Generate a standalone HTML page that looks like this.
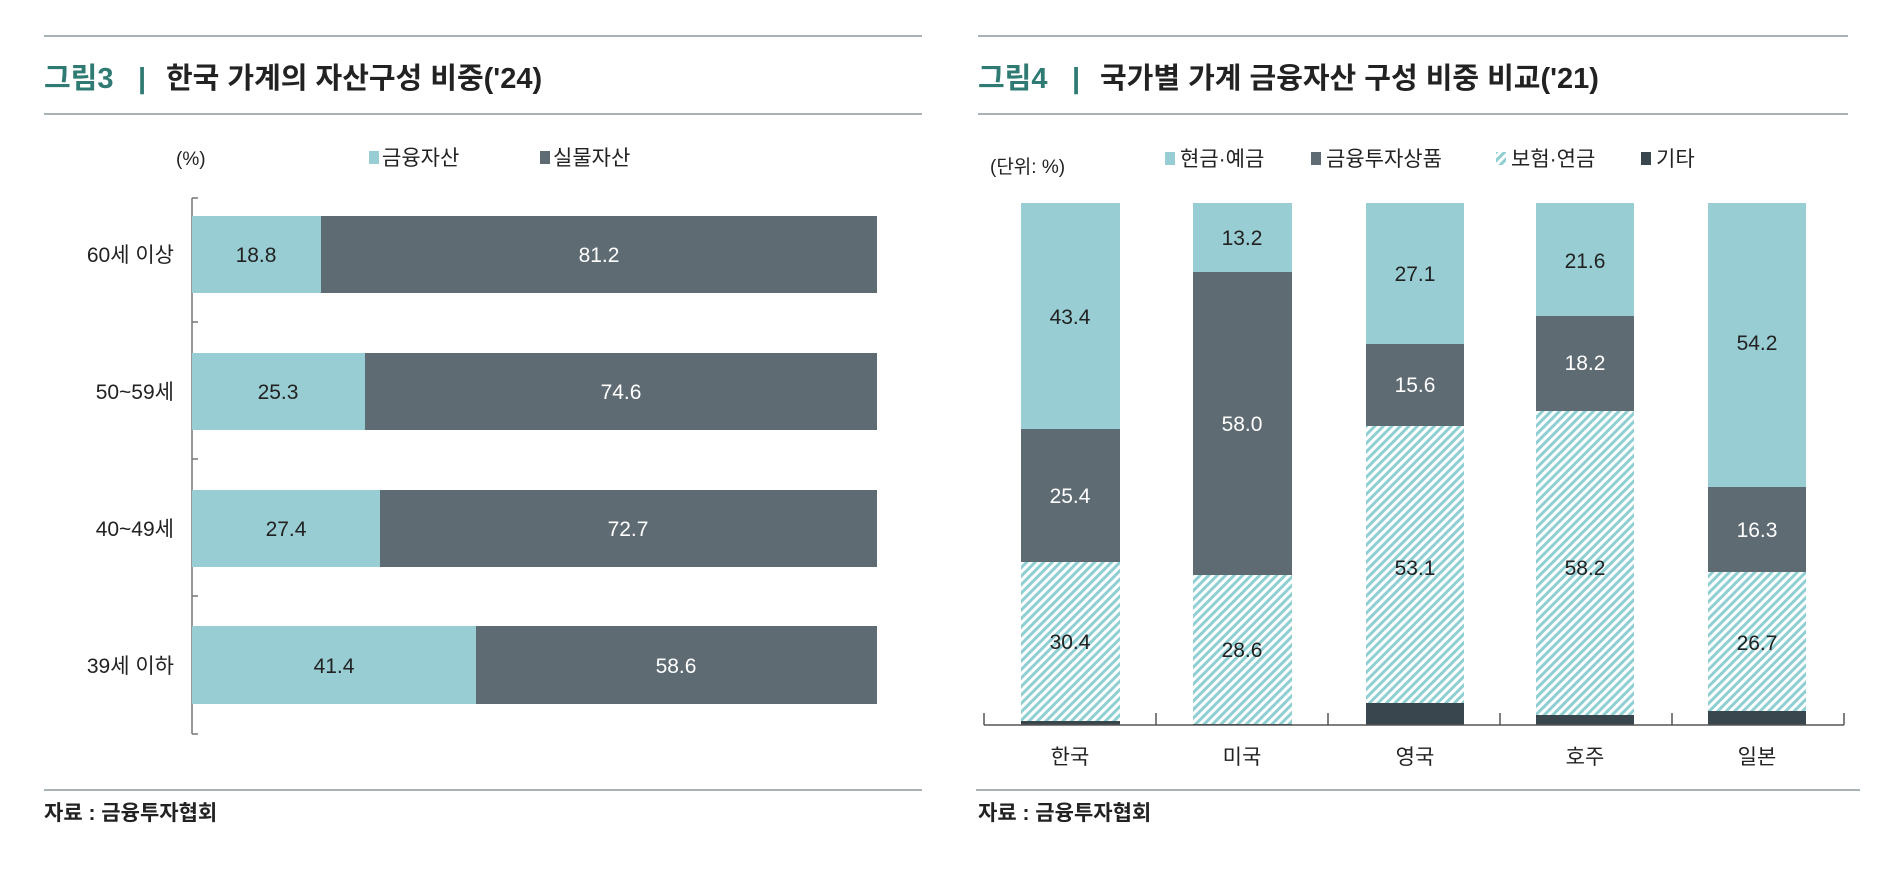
<!DOCTYPE html>
<html><head><meta charset="utf-8"><style>
body{margin:0;background:#fff}
svg text{font-family:"Liberation Sans","Noto Sans CJK KR",sans-serif}
</style></head><body>
<svg width="1880" height="864" viewBox="0 0 1880 864" xmlns="http://www.w3.org/2000/svg">
<defs>
<pattern id="h" width="6" height="6" patternUnits="userSpaceOnUse" patternTransform="rotate(45)">
<rect width="6" height="6" fill="#fff"/><rect width="3" height="6" fill="#8fcfd3"/>
</pattern>
</defs>
<!-- left panel -->
<line x1="44" y1="36" x2="922" y2="36" stroke="#a9b2b7" stroke-width="2"/>
<line x1="44" y1="114" x2="922" y2="114" stroke="#a9b2b7" stroke-width="2"/>
<text x="44" y="88" font-size="29" font-weight="bold" fill="#2f7b73">그림3</text>
<text x="138" y="88" font-size="29" font-weight="bold" fill="#2f7b73">|</text>
<text x="166" y="88" font-size="29" font-weight="bold" fill="#222">한국 가계의 자산구성 비중('24)</text>
<text x="176" y="165" font-size="19" fill="#222">(%)</text>
<rect x="369" y="151" width="10" height="13" fill="#97cdd3"/>
<text x="382" y="165" font-size="21" fill="#222">금융자산</text>
<rect x="540" y="151" width="10" height="13" fill="#5f6b73"/>
<text x="553" y="165" font-size="21" fill="#222">실물자산</text>
<line x1="192" y1="198" x2="192" y2="734" stroke="#777" stroke-width="1.5"/>
<g stroke="#777" stroke-width="1.5">
<line x1="192" y1="198" x2="198" y2="198"/><line x1="192" y1="322" x2="198" y2="322"/><line x1="192" y1="459" x2="198" y2="459"/><line x1="192" y1="596" x2="198" y2="596"/><line x1="192" y1="734" x2="198" y2="734"/>
</g>
<g font-size="21" text-anchor="middle">
<rect x="192" y="216" width="129" height="77" fill="#97cdd3"/><rect x="321" y="216" width="556" height="77" fill="#5f6b73"/>
<text x="256" y="262" fill="#222">18.8</text><text x="599" y="262" fill="#fff">81.2</text>
<rect x="192" y="353" width="173" height="77" fill="#97cdd3"/><rect x="365" y="353" width="512" height="77" fill="#5f6b73"/>
<text x="278" y="399" fill="#222">25.3</text><text x="621" y="399" fill="#fff">74.6</text>
<rect x="192" y="490" width="188" height="77" fill="#97cdd3"/><rect x="380" y="490" width="497" height="77" fill="#5f6b73"/>
<text x="286" y="536" fill="#222">27.4</text><text x="628" y="536" fill="#fff">72.7</text>
<rect x="192" y="626" width="284" height="78" fill="#97cdd3"/><rect x="476" y="626" width="401" height="78" fill="#5f6b73"/>
<text x="334" y="673" fill="#222">41.4</text><text x="676" y="673" fill="#fff">58.6</text>
</g>
<g font-size="21" text-anchor="end" fill="#222">
<text x="174" y="262">60세 이상</text><text x="174" y="399">50~59세</text><text x="174" y="536">40~49세</text><text x="174" y="673">39세 이하</text>
</g>
<line x1="44" y1="790" x2="922" y2="790" stroke="#a9b2b7" stroke-width="2"/>
<text x="44" y="820" font-size="21" font-weight="bold" fill="#222">자료 : 금융투자협회</text>

<!-- right panel -->
<line x1="978" y1="36" x2="1848" y2="36" stroke="#a9b2b7" stroke-width="2"/>
<line x1="978" y1="114" x2="1848" y2="114" stroke="#a9b2b7" stroke-width="2"/>
<text x="978" y="88" font-size="29" font-weight="bold" fill="#2f7b73">그림4</text>
<text x="1072" y="88" font-size="29" font-weight="bold" fill="#2f7b73">|</text>
<text x="1100" y="88" font-size="29" font-weight="bold" fill="#222">국가별 가계 금융자산 구성 비중 비교('21)</text>
<text x="990" y="173" font-size="19" fill="#222">(단위: %)</text>
<rect x="1165" y="152" width="10" height="13" fill="#97cdd3"/>
<text x="1180" y="166" font-size="21" fill="#222">현금·예금</text>
<rect x="1311" y="152" width="10" height="13" fill="#5f6b73"/>
<text x="1326" y="166" font-size="21" fill="#222">금융투자상품</text>
<rect x="1496" y="152" width="10" height="13" fill="url(#h)"/>
<text x="1511" y="166" font-size="21" fill="#222">보험·연금</text>
<rect x="1641" y="152" width="10" height="13" fill="#3a464e"/>
<text x="1656" y="166" font-size="21" fill="#222">기타</text>

<g font-size="21" text-anchor="middle">
<rect x="1021" y="721" width="99" height="4" fill="#3a464e"/>
<rect x="1021" y="562" width="99" height="159" fill="url(#h)"/>
<rect x="1021" y="429" width="99" height="133" fill="#5f6b73"/>
<rect x="1021" y="203" width="99" height="226" fill="#97cdd3"/>
<text x="1070" y="324" fill="#222">43.4</text><text x="1070" y="503" fill="#fff">25.4</text><text x="1070" y="649" fill="#222">30.4</text>
<rect x="1193" y="724" width="99" height="1" fill="#3a464e"/>
<rect x="1193" y="575" width="99" height="149" fill="url(#h)"/>
<rect x="1193" y="272" width="99" height="303" fill="#5f6b73"/>
<rect x="1193" y="203" width="99" height="69" fill="#97cdd3"/>
<text x="1242" y="245" fill="#222">13.2</text><text x="1242" y="431" fill="#fff">58.0</text><text x="1242" y="657" fill="#222">28.6</text>
<rect x="1366" y="703" width="98" height="22" fill="#3a464e"/>
<rect x="1366" y="426" width="98" height="277" fill="url(#h)"/>
<rect x="1366" y="344" width="98" height="82" fill="#5f6b73"/>
<rect x="1366" y="203" width="98" height="141" fill="#97cdd3"/>
<text x="1415" y="281" fill="#222">27.1</text><text x="1415" y="392" fill="#fff">15.6</text><text x="1415" y="575" fill="#222">53.1</text>
<rect x="1536" y="715" width="98" height="10" fill="#3a464e"/>
<rect x="1536" y="411" width="98" height="304" fill="url(#h)"/>
<rect x="1536" y="316" width="98" height="95" fill="#5f6b73"/>
<rect x="1536" y="203" width="98" height="113" fill="#97cdd3"/>
<text x="1585" y="268" fill="#222">21.6</text><text x="1585" y="370" fill="#fff">18.2</text><text x="1585" y="575" fill="#222">58.2</text>
<rect x="1708" y="711" width="98" height="14" fill="#3a464e"/>
<rect x="1708" y="572" width="98" height="139" fill="url(#h)"/>
<rect x="1708" y="487" width="98" height="85" fill="#5f6b73"/>
<rect x="1708" y="203" width="98" height="284" fill="#97cdd3"/>
<text x="1757" y="350" fill="#222">54.2</text><text x="1757" y="537" fill="#fff">16.3</text><text x="1757" y="650" fill="#222">26.7</text>
</g>
<line x1="984" y1="725" x2="1844" y2="725" stroke="#555" stroke-width="1.5"/>
<g stroke="#555" stroke-width="1.5">
<line x1="984" y1="713" x2="984" y2="725"/><line x1="1156" y1="713" x2="1156" y2="725"/><line x1="1328" y1="713" x2="1328" y2="725"/><line x1="1500" y1="713" x2="1500" y2="725"/><line x1="1672" y1="713" x2="1672" y2="725"/><line x1="1844" y1="713" x2="1844" y2="725"/>
</g>
<g font-size="21" text-anchor="middle" fill="#222">
<text x="1070" y="764">한국</text><text x="1242" y="764">미국</text><text x="1415" y="764">영국</text><text x="1585" y="764">호주</text><text x="1757" y="764">일본</text>
</g>
<line x1="976" y1="790" x2="1860" y2="790" stroke="#a9b2b7" stroke-width="2"/>
<text x="978" y="820" font-size="21" font-weight="bold" fill="#222">자료 : 금융투자협회</text>
</svg>
</body></html>
